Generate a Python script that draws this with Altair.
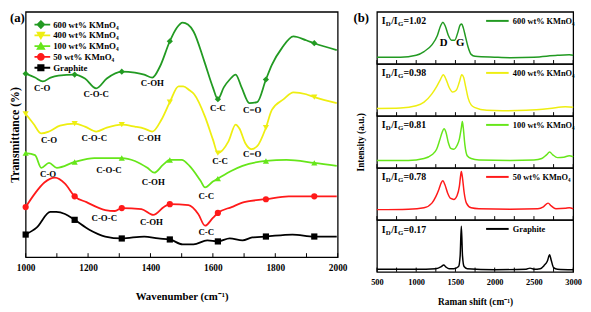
import altair as alt
import pandas as pd

FONT = "Liberation Serif"

series = ["600 wt% KMnO₄", "400 wt% KMnO₄", "100 wt% KMnO₄", "50 wt% KMnO₄", "Graphite"]
colors = ["#229a22", "#eeee11", "#66e61a", "#ff1a1a", "#000000"]
marker_shapes = ["diamond", "triangle-down", "triangle-up", "circle", "square"]
legend_paths = [
    "M-1.73,0H1.73M0,-0.62L0.62,0L0,0.62L-0.62,0Z",
    "M-1.73,0H1.73M-0.6,-0.5L0.6,-0.5L0,0.55Z",
    "M-1.73,0H1.73M-0.6,0.5L0.6,0.5L0,-0.55Z",
    "M-1.73,0H1.73M0.55,0A0.55,0.55,0,1,1,-0.55,0A0.55,0.55,0,1,1,0.55,0Z",
    "M-1.73,0H1.73M-0.5,-0.5H0.5V0.5H-0.5Z",
]

# ---------------- (a) FTIR ----------------
ftir_wn_600 = [1000, 1030, 1055, 1080, 1105, 1157, 1190, 1226, 1260, 1308, 1350, 1380, 1406, 1430, 1462,
               1485, 1503, 1520, 1538, 1572, 1600, 1616, 1635, 1654, 1673, 1692, 1717, 1742, 1770, 1789,
               1821, 1858, 1899, 1925, 1997]
ftir_t_600 = [187, 183, 179, 183, 185, 186, 182, 172, 182, 189, 188, 186, 183, 194, 220,
              234, 239, 237, 230, 200, 173, 161, 173, 181, 186, 173, 157, 158, 181, 196,
              213, 225, 221, 218, 211]
ftir_wn_400 = [1000, 1025, 1050, 1075, 1110, 1157, 1190, 1226, 1260, 1308, 1350, 1380, 1406, 1435, 1462,
               1490, 1505, 1525, 1540, 1575, 1600, 1616, 1650, 1673, 1685, 1704, 1723, 1742, 1770, 1789,
               1827, 1858, 1899, 1925, 1997]
ftir_t_400 = [146, 136, 126, 128, 134, 136, 133, 128, 132, 135, 133, 131, 128, 140, 158,
              174, 174, 170, 166, 143, 120, 106, 118, 135, 131, 116, 110, 113, 132, 150,
              161, 168, 166, 163, 157]
ftir_wn_100 = [1000, 1030, 1050, 1075, 1100, 1157, 1220, 1308, 1350, 1390, 1412, 1440, 1462, 1500, 1525,
               1560, 1575, 1600, 1616, 1660, 1695, 1770, 1836, 1925, 1997]
ftir_t_100 = [106, 104, 91, 96, 91, 97, 101, 101, 98, 91, 86, 94, 99, 99, 93,
              78, 71, 77, 80, 88, 93, 98, 99, 96, 93]
ftir_wn_50 = [1000, 1030, 1060, 1094, 1126, 1157, 1195, 1255, 1286, 1308, 1371, 1409, 1443, 1462, 1522,
              1553, 1575, 1600, 1616, 1660, 1700, 1770, 1843, 1925, 1997]
ftir_t_50 = [51, 65, 76, 81, 75, 62, 56, 48, 47, 50, 49, 43, 51, 54, 53,
             44, 32, 40, 45, 51, 56, 59, 62, 62, 62]
ftir_wn_gr = [1000, 1035, 1079, 1098, 1126, 1157, 1204, 1255, 1308, 1380, 1425, 1462, 1503, 1538, 1582,
              1616, 1654, 1695, 1726, 1770, 1855, 1925, 1997]
ftir_t_gr = [23, 30, 46, 46, 44, 38, 28, 21, 19, 21, 19, 18, 13, 13, 17,
             16, 19, 17, 20, 21, 23, 21, 21]
marker_wn = [1000, 1157, 1308, 1462, 1616, 1770, 1925]
ftir_ticks = list(range(1000, 2001, 100))

ann_text = ["C-O", "C-O-C", "C-OH", "C-C", "C=O",
            "C-O", "C-O-C", "C-OH", "C-C", "C=O",
            "C-O", "C-O-C", "C-OH", "C-C",
            "C-O-C", "C-OH", "C-C"]
ann_wn = [1053, 1226, 1406, 1616, 1726,
          1075, 1220, 1396, 1623, 1726,
          1072, 1267, 1409, 1579,
          1252, 1403, 1579]
ann_t = [172, 166, 177, 152, 150,
         119, 121, 121, 98, 105,
         85, 89, 76, 62,
         40, 36, 26]

ftir_wn = [ftir_wn_600, ftir_wn_400, ftir_wn_100, ftir_wn_50, ftir_wn_gr]
ftir_t = [ftir_t_600, ftir_t_400, ftir_t_100, ftir_t_50, ftir_t_gr]

rows = []
for name, xs, ys in zip(series, ftir_wn, ftir_t):
    for x, y in zip(xs, ys):
        rows.append({"series": name, "wn": x, "t": y})
ftir_df = pd.DataFrame(rows)

fx_scale = alt.Scale(domain=[1000, 2000], nice=False, zero=False)
fy_scale = alt.Scale(domain=[0, 250], nice=False, zero=False)
xa = alt.X("wn:Q", scale=fx_scale,
           axis=alt.Axis(values=[1000, 1200, 1400, 1600, 1800, 2000], format="d", labelFlush=False,
                         title="Wavenumber (cm⁻¹)", ticks=False, domain=False,
                         labelFontSize=9.5, titleFontSize=11, labelPadding=6, titlePadding=19))
ya = alt.Y("t:Q", scale=fy_scale,
           axis=alt.Axis(title="Transmittance (%)", labels=False, ticks=False, domain=False,
                         titleFontSize=12, titlePadding=4))

lines = alt.Chart(ftir_df).mark_line(strokeWidth=1.8, interpolate="monotone").encode(
    x=xa, y=ya,
    color=alt.Color("series:N", scale=alt.Scale(domain=series, range=colors), legend=None))

marker_layers = []
for name, col, shp in zip(series, colors, marker_shapes):
    marker_layers.append(
        alt.Chart(ftir_df)
        .transform_filter(alt.datum.series == name)
        .transform_filter(alt.FieldOneOfPredicate(field="wn", oneOf=marker_wn))
        .mark_point(shape=shp, filled=True, size=40, color=col, opacity=1)
        .encode(x=xa, y=ya))

ann_df = pd.DataFrame({"label": ann_text, "wn": ann_wn, "t": ann_t})
ann = alt.Chart(ann_df).mark_text(font=FONT, fontSize=9, fontWeight="bold", color="black").encode(
    x=xa, y=ya, text="label:N")

ftick_df = pd.DataFrame({"wn": ftir_ticks})
ftick_df["t"] = 0
ftick_df["t2"] = 4
ftick = alt.Chart(ftick_df).mark_rule(color="black", strokeWidth=1).encode(
    x=xa, y=ya, y2="t2:Q")

leg_common = dict(orient="none", legendX=9, legendY=7.5, title=None, labelFont=FONT, labelFontSize=9,
                  labelFontWeight="bold", symbolSize=121, symbolStrokeWidth=1.8, labelOffset=6,
                  symbolOpacity=1, rowPadding=0, clipHeight=11)
legend_layer = (alt.Chart(pd.DataFrame({"series": series}))
                .mark_point(filled=True, size=121, strokeWidth=1.8, opacity=0)
                .encode(
                    fill=alt.Fill("series:N", scale=alt.Scale(domain=series, range=colors),
                                  legend=alt.Legend(**leg_common)),
                    stroke=alt.Stroke("series:N", scale=alt.Scale(domain=series, range=colors),
                                      legend=alt.Legend(**leg_common)),
                    shape=alt.Shape("series:N", scale=alt.Scale(domain=series, range=legend_paths),
                                    legend=alt.Legend(**leg_common))))

tag_a = alt.Chart(pd.DataFrame({"t": ["(a)"]})).mark_text(
    font=FONT, fontSize=13, fontWeight="bold", align="left", baseline="top", color="black"
).encode(x=alt.value(-16), y=alt.value(0), text="t:N")

left = alt.layer(ftick, lines, *marker_layers, ann, legend_layer, tag_a).properties(width=318, height=250)

# ---------------- (b) Raman ----------------
raman_x_600 = [500, 800, 1000, 1100, 1200, 1270, 1310, 1340, 1370, 1410, 1450, 1490, 1530, 1560, 1580,
               1600, 1630, 1660, 1700, 1750, 2000, 2200, 2500, 2800, 2950, 3000]
raman_y_600 = [7, 7, 9, 13, 20, 30, 40, 44, 40, 30, 25, 25, 33, 41, 42,
               38, 28, 18, 10, 8, 7, 6.5, 7, 9, 9.5, 9]
raman_x_400 = [500, 800, 1000, 1100, 1200, 1260, 1310, 1345, 1380, 1420, 1465, 1510, 1550, 1580, 1605,
               1630, 1660, 1700, 1750, 1900, 2100, 2400, 2700, 2900, 3000]
raman_y_400 = [8, 8.5, 11, 15, 24, 32, 40, 45, 40, 31, 26, 28, 37, 45, 42,
               32, 20, 12, 9, 6, 5.5, 6, 8, 10, 9.5]
raman_x_100 = [500, 900, 1100, 1200, 1260, 1300, 1330, 1355, 1380, 1410, 1440, 1480, 1520, 1550, 1575,
               1588, 1600, 1620, 1650, 1700, 1800, 2200, 2500, 2600, 2660, 2700, 2740, 2800, 2880, 2950, 3000]
raman_y_100 = [8, 8, 10, 14, 20, 30, 38, 42, 38, 27, 21, 20, 24, 31, 43,
               50, 43, 25, 13, 10, 8.5, 8, 8.5, 10, 14, 17, 14, 11, 11.5, 13, 12]
raman_x_50 = [500, 900, 1100, 1200, 1250, 1290, 1320, 1340, 1365, 1400, 1440, 1480, 1520, 1550, 1565,
              1575, 1590, 1610, 1640, 1700, 1800, 2200, 2550, 2620, 2680, 2720, 2780, 2900, 2950, 3000]
raman_y_50 = [11, 11.5, 13, 18, 25, 33, 40, 42, 38, 29, 23, 22, 26, 36, 47,
              52, 45, 30, 18, 13, 12, 11.5, 12, 14, 18, 15, 12, 12.5, 13, 12]
raman_x_gr = [500, 1000, 1250, 1320, 1350, 1380, 1420, 1480, 1540, 1560, 1575, 1590, 1610, 1650, 2000,
              2400, 2450, 2500, 2580, 2630, 2670, 2700, 2720, 2750, 2800, 3000]
raman_y_gr = [2.5, 2.5, 3, 5, 6.5, 4.5, 3, 3, 5, 15, 43, 15, 5, 3, 2,
              2.5, 3.5, 2.5, 3, 6, 10, 16, 11, 4, 2.5, 2]
raman_top = [55, 57, 56, 56, 49]
ratio_text = ["=1.02", "=0.98", "=0.81", "=0.78", "=0.17"]
raman_ticks = list(range(500, 3001, 250))
dg_text = ["D", "G"]
dg_x = [1350, 1562]
dg_y = [22, 22]

raman_x = [raman_x_600, raman_x_400, raman_x_100, raman_x_50, raman_x_gr]
raman_y = [raman_y_600, raman_y_400, raman_y_100, raman_y_50, raman_y_gr]

panels = []
for i in range(5):
    df = pd.DataFrame({"shift": raman_x[i], "h": raman_y[i], "series": series[i]})
    if i == 4:
        xaxis = alt.Axis(values=[500, 1000, 1500, 2000, 2500, 3000], format="d", title="Raman shift (cm⁻¹)",
                         ticks=False, domain=False, labelFontSize=8.5, titleFontSize=9.5, labelFlush=False,
                         labelPadding=6, titlePadding=11)
    else:
        xaxis = None
    if i == 2:
        yaxis = alt.Axis(title="Intensity (a.u.)", labels=False, ticks=False, domain=False,
                         titleFontSize=9.5, titlePadding=12)
    else:
        yaxis = None
    rxs = alt.Scale(domain=[500, 3000], nice=False, zero=False)
    rys = alt.Scale(domain=[0, raman_top[i]], nice=False, zero=False)
    rx = alt.X("shift:Q", scale=rxs, axis=xaxis)
    ry = alt.Y("h:Q", scale=rys, axis=yaxis)
    ln = alt.Chart(df).mark_line(strokeWidth=1.5, interpolate="monotone").encode(
        x=rx, y=ry,
        color=alt.Color("series:N", scale=alt.Scale(domain=[series[i]], range=[colors[i]]),
                        legend=alt.Legend(orient="none", legendX=118.5, legendY=5, title=None,
                                          labelFont=FONT, labelFontSize=8.5, labelFontWeight="bold",
                                          symbolType="M-3.83,0H3.83", symbolSize=36, symbolStrokeWidth=2,
                                          labelOffset=11.5)))
    tk_df = pd.DataFrame({"shift": raman_ticks})
    tk_df["h"] = 0
    tk_df["h2"] = 4
    tk = alt.Chart(tk_df).mark_rule(color="black", strokeWidth=1).encode(x=rx, y=ry, y2="h2:Q")
    lab_df = pd.DataFrame({"shift": [562], "h": [raman_top[i] - 10]})
    base = alt.Chart(lab_df)
    tstyle = dict(font=FONT, fontWeight="bold", align="left", baseline="middle", color="black")
    labs = [
        base.mark_text(fontSize=10, dx=0, text="I", **tstyle).encode(x=rx, y=ry),
        base.mark_text(fontSize=7, dx=4, dy=3, text="D", **tstyle).encode(x=rx, y=ry),
        base.mark_text(fontSize=10, dx=9.5, text="/I", **tstyle).encode(x=rx, y=ry),
        base.mark_text(fontSize=7, dx=16.5, dy=3, text="G", **tstyle).encode(x=rx, y=ry),
        base.mark_text(fontSize=10, dx=22, text=ratio_text[i], **tstyle).encode(x=rx, y=ry),
    ]
    layers = [tk, ln] + labs
    if i == 0:
        dg = alt.Chart(pd.DataFrame({"label": dg_text, "shift": dg_x, "h": dg_y})).mark_text(
            font=FONT, fontSize=11, fontWeight="bold", color="black").encode(x=rx, y=ry, text="label:N")
        tag_b = alt.Chart(pd.DataFrame({"t": ["(b)"]})).mark_text(
            font=FONT, fontSize=13, fontWeight="bold", align="left", baseline="top", color="black"
        ).encode(x=alt.value(-24), y=alt.value(0), text="t:N")
        layers += [dg, tag_b]
    panels.append(alt.layer(*layers).properties(width=200, height=53))

right = alt.vconcat(*panels, spacing=0, bounds="flush").resolve_scale(color="independent")

chart = (alt.hconcat(left, right, spacing=40, bounds="flush")
         .resolve_scale(color="independent")
         .properties(padding=0)
         .configure_view(stroke="black", strokeWidth=1.3)
         .configure_axis(grid=False, labelFont=FONT, titleFont=FONT, labelFontWeight="bold",
                         titleFontWeight="bold", labelColor="black", titleColor="black")
         .configure_legend(labelColor="black"))

chart.save("out.html", embed_options={"renderer": "svg", "actions": False})
